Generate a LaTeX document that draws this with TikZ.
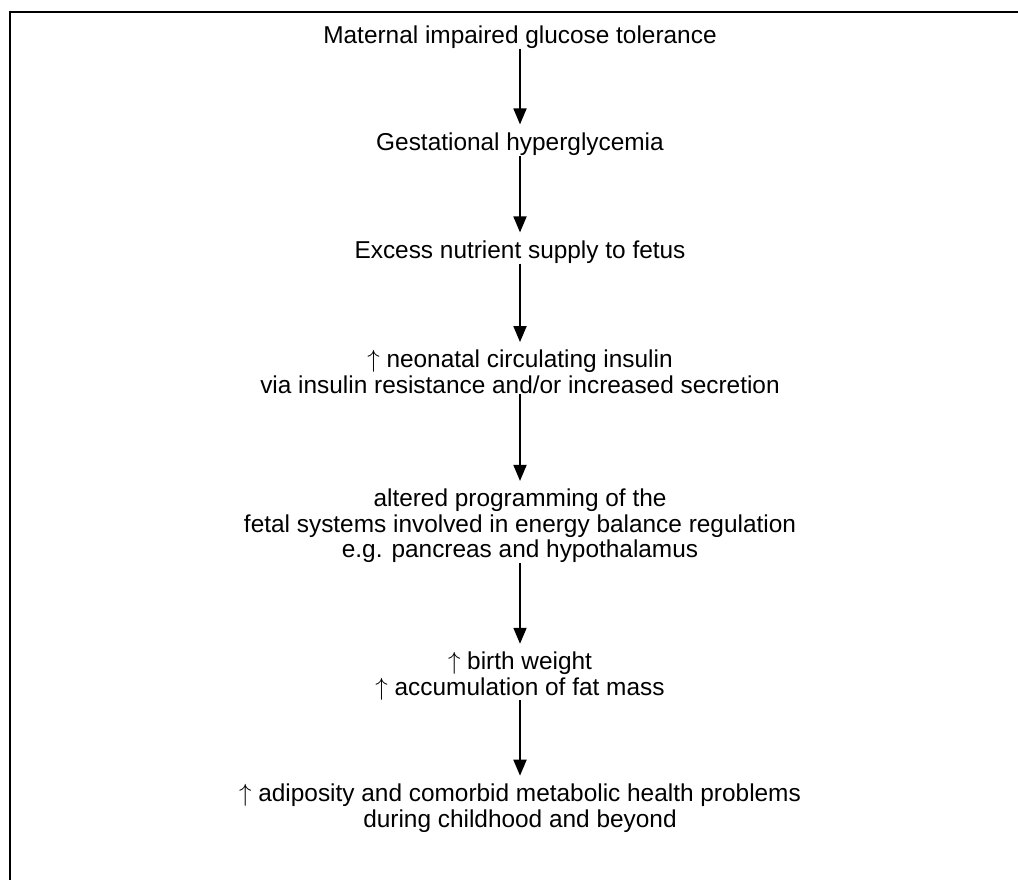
\documentclass[tikz,border=0pt]{standalone}
\usepackage{fontspec}
\setmainfont{Liberation Sans}
\usetikzlibrary{arrows.meta}

\begin{document}
\begin{tikzpicture}[x=1pt,y=-1pt,
    stage/.style={align=center,inner sep=0pt,font=\fontsize{24.4}{25.5}\selectfont},
    flow/.style={-{Triangle[width=13pt,length=16pt]},line width=1.8pt,
      shorten <=0pt,shorten >=8pt}]
    \useasboundingbox (0,0) rectangle (1018,880);
    \draw[line width=2pt] (10,880) -- (10,12) -- (1018,12);
    \node[stage] (tolerance) at (520,37) {Maternal impaired glucose tolerance};
    \node[stage] (hyper) at (520,144) {Gestational hyperglycemia};
    \node[stage] (nutrient) at (520,252) {Excess nutrient supply to fetus};
    \node[stage] (insulin) at (520,372) {$\uparrow$ neonatal circulating insulin\\
      via insulin resistance and/or increased secretion};
    \node[stage] (programming) at (520,526) {altered programming of the\\
      fetal systems involved in energy balance regulation\\
      e.g. pancreas and hypothalamus};
    \node[stage] (weight) at (520,676) {$\uparrow$ birth weight\\
      $\uparrow$ accumulation of fat mass};
    \node[stage] (adiposity) at (520,808) {$\uparrow$ adiposity and comorbid metabolic health problems\\
      during childhood and beyond};
    \draw[flow] (tolerance) -- (hyper);
    \draw[flow] (hyper) -- (nutrient);
    \draw[flow] (nutrient) -- (insulin);
    \draw[flow] (insulin) -- (programming);
    \draw[flow] (programming) -- (weight);
    \draw[flow] (weight) -- (adiposity);
  \end{tikzpicture}
\end{document}
